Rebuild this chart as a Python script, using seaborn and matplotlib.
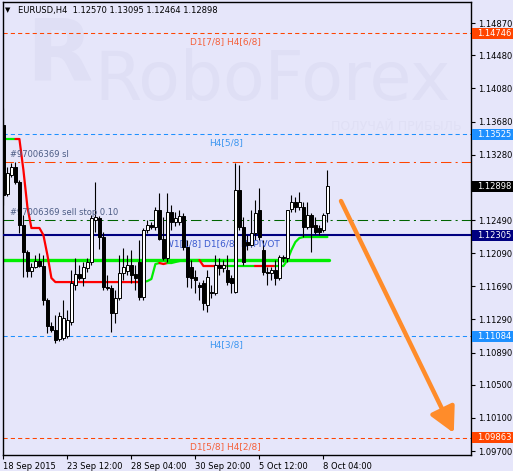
import numpy as np
import pandas as pd
import matplotlib
matplotlib.use("Agg")
import matplotlib.pyplot as plt
import seaborn as sns
from matplotlib.patches import Rectangle, FancyArrowPatch
from matplotlib.transforms import blended_transform_factory

sns.set_style("white")
plt.rcParams['font.family'] = ['DejaVu Sans']

# ---------------- data ----------------
title_text = "EURUSD,H4  1.12570 1.13095 1.12464 1.12898"

opens = [1.13638, 1.12804, 1.13034, 1.13131, 1.12949, 1.12430, 1.12104, 1.11874, 1.11922, 1.11995,
         1.11935, 1.11524, 1.11210, 1.11162, 1.11053, 1.11065, 1.11089, 1.11258, 1.11705, 1.11838,
         1.11790, 1.11910, 1.11983, 1.12490, 1.12515, 1.12285, 1.11681, 1.11669, 1.11367, 1.11548,
         1.11850, 1.11874, 1.11947, 1.11838, 1.11983, 1.11560, 1.12370, 1.12430, 1.12406, 1.12611,
         1.12261, 1.12031, 1.12587, 1.12466, 1.12466, 1.12539, 1.12164, 1.11922, 1.11802, 1.11705,
         1.11729, 1.11464, 1.11620, 1.11608, 1.11947, 1.11910, 1.11886, 1.11790, 1.11620, 1.12853,
         1.12406, 1.12225, 1.12188, 1.12333, 1.12611, 1.12128, 1.11862, 1.11850, 1.11886, 1.11790,
         1.12043, 1.12031, 1.12624, 1.12708, 1.12648, 1.12648, 1.12406, 1.12551, 1.12430, 1.12394,
         1.12370, 1.12570]
highs = [1.13843, 1.13131, 1.13179, 1.13191, 1.12974, 1.12551, 1.12128, 1.11971, 1.12068, 1.12092,
         1.12068, 1.11548, 1.11258, 1.11343, 1.11379, 1.11524, 1.11403, 1.11886, 1.12031, 1.11947,
         1.11983, 1.12031, 1.12551, 1.12949, 1.12539, 1.12345, 1.11826, 1.11705, 1.11645, 1.12068,
         1.12152, 1.12068, 1.12128, 1.11947, 1.12249, 1.12394, 1.12490, 1.12466, 1.12648, 1.12816,
         1.12527, 1.12816, 1.12672, 1.12587, 1.12611, 1.12575, 1.12249, 1.12007, 1.11886, 1.11741,
         1.11766, 1.11886, 1.11705, 1.12068, 1.12031, 1.12007, 1.12068, 1.11826, 1.13179, 1.13155,
         1.12527, 1.12309, 1.12611, 1.12732, 1.12877, 1.12249, 1.11922, 1.11922, 1.12007, 1.12068,
         1.12068, 1.12611, 1.12792, 1.12768, 1.12828, 1.12708, 1.12708, 1.12575, 1.12527, 1.12430,
         1.12575, 1.13095]
lows = [1.12672, 1.12780, 1.13010, 1.12925, 1.12333, 1.11802, 1.11802, 1.11802, 1.11910, 1.11922,
        1.11464, 1.11125, 1.11137, 1.11004, 1.11028, 1.11041, 1.11065, 1.11222, 1.11645, 1.11766,
        1.11693, 1.11862, 1.11947, 1.12345, 1.12140, 1.11645, 1.11645, 1.11137, 1.11246, 1.11524,
        1.11766, 1.11826, 1.11729, 1.11645, 1.11524, 1.11524, 1.12333, 1.12382, 1.12370, 1.12249,
        1.12007, 1.11983, 1.12370, 1.12418, 1.12430, 1.12128, 1.11681, 1.11669, 1.11608, 1.11524,
        1.11403, 1.11379, 1.11548, 1.11584, 1.11826, 1.11862, 1.11705, 1.11608, 1.11608, 1.12370,
        1.11947, 1.12128, 1.12164, 1.12249, 1.12249, 1.11826, 1.11705, 1.11766, 1.11705, 1.11766,
        1.11983, 1.11983, 1.12587, 1.12587, 1.12611, 1.12285, 1.12382, 1.12104, 1.12321, 1.12309,
        1.12345, 1.12464]
closes = [1.12792, 1.13058, 1.13131, 1.12949, 1.12430, 1.12104, 1.11874, 1.11922, 1.11995, 1.11935,
          1.11524, 1.11210, 1.11162, 1.11041, 1.11331, 1.11307, 1.11282, 1.11729, 1.11838, 1.11790,
          1.11922, 1.11983, 1.12515, 1.12527, 1.12285, 1.11681, 1.11669, 1.11367, 1.11548, 1.11850,
          1.11922, 1.11947, 1.11826, 1.11790, 1.11560, 1.12370, 1.12430, 1.12406, 1.12611, 1.12261,
          1.12031, 1.12587, 1.12466, 1.12515, 1.12539, 1.12164, 1.11802, 1.11790, 1.11766, 1.11681,
          1.11488, 1.11802, 1.11608, 1.11947, 1.11910, 1.11947, 1.11741, 1.11729, 1.12853, 1.12406,
          1.11983, 1.12188, 1.12333, 1.12575, 1.12285, 1.11862, 1.11850, 1.11886, 1.11790, 1.12043,
          1.12031, 1.12611, 1.12708, 1.12648, 1.12708, 1.12406, 1.12551, 1.12406, 1.12345, 1.12345,
          1.12551, 1.12898]

# trailing stop line (value per bar) and its colour state (1 = green, -1 = red)
trail = [1.13469, 1.13469, 1.13469, 1.13469, 1.13469, 1.13095, 1.12648, 1.12394, 1.12394, 1.12394,
         1.12309, 1.12068, 1.11790, 1.11741] + [1.11741] * 21 + \
        [1.11741, 1.11753, 1.11778, 1.11959, 1.11971, 1.11959, 1.11971, 1.11971, 1.11983, 1.11995,
         1.12007, 1.12007, 1.12007, 1.12007, 1.12007] + [1.11935] * 21 + \
        [1.12007, 1.12128, 1.12225, 1.12273] + [1.12285] * 7
trail_dir = [1] * 4 + [-1] * 31 + [1] * 5 + [-1] * 2 + [1] * 8 + [-1] * 7 + [1] * 7 + [-1] * 5 + [1] * 13

support_level = 1.12007          # thick green line
pivot_level = 1.12305            # navy pivot line
pivot_label = "W1[1/8] D1[6/8] H4PIVOT"
sl_level = 1.13191
sl_label = "#97006369 sl"
entry_level = 1.12490
entry_label = "#97006369 sell stop 0.10"
last_price = 1.12898

murrey_levels = [1.14746, 1.13525, 1.11084, 1.09863]
murrey_labels = ["D1[7/8] H4[6/8]", "H4[5/8]", "H4[3/8]", "D1[5/8] H4[2/8]"]
murrey_colors = ["#FF4500", "#1E90FF", "#1E90FF", "#FF4500"]
murrey_text_colors = ["#F5603A", "#3C96F0", "#3C96F0", "#F5603A"]
murrey_text_x = [46.6, 51.4, 51.4, 46.6]

arrow_start = (84.4, 1.12720)
arrow_end = (112.6, 1.09917)

time_ticks = [0, 16, 32, 48, 64, 80]
time_labels = ["18 Sep 2015", "23 Sep 12:00", "28 Sep 04:00", "30 Sep 20:00", "5 Oct 12:00", "8 Oct 04:00"]
price_ticks = [1.14870, 1.14480, 1.14080, 1.13680, 1.13280, 1.12490, 1.12090,
               1.11690, 1.11290, 1.10890, 1.10500, 1.10100, 1.09700]

# ---------------- figure ----------------
W, H = 513, 471
BG = "#E6E6FA"
fig = plt.figure(figsize=(W / 100, H / 100), dpi=100)
fig.patch.set_facecolor(BG)
ax = fig.add_axes([3 / W, 16 / H, 468 / W, 453 / H])
ax.set_facecolor(BG)
ax.set_xlim(-0.1, 116.9)
ax.set_ylim(1.09652, 1.15124)

# watermark
WM = "#DFDFF5"
ax.text(0.195, 0.898, "RoboForex", transform=ax.transAxes, fontsize=49, color=WM,
        ha="left", va="top", zorder=0)
ax.text(0.05, 0.97, "R", transform=ax.transAxes, fontsize=62, fontweight="bold", color=WM,
        ha="left", va="top", zorder=0)
ax.text(0.70, 0.726, "ПОЛУЧАЙ ПРИБЫЛЬ", transform=ax.transAxes, fontsize=9, color="#E0E0F5",
        ha="left", va="center", zorder=0)

# murrey level lines
for lvl, lab, c, tc, tx in zip(murrey_levels, murrey_labels, murrey_colors, murrey_text_colors, murrey_text_x):
    ax.axhline(lvl, color=c, lw=0.75, dashes=(4, 3), zorder=1)
    ax.annotate(lab, (tx, lvl), xytext=(0, -3), textcoords="offset points",
                color=tc, fontsize=6.5, ha="left", va="top", zorder=5)

# order lines
ax.axhline(sl_level, color="#FF4500", lw=0.75, dashes=(10, 4, 2, 4), zorder=1)
ax.axhline(entry_level, color="#006400", lw=0.75, dashes=(10, 4, 2, 4), zorder=1)
ax.annotate(sl_label, (1.6, sl_level), xytext=(0, 2), textcoords="offset points",
            color="#4B5B84", fontsize=6, ha="left", va="bottom", zorder=6)
ax.annotate(entry_label, (1.6, entry_level), xytext=(0, 2), textcoords="offset points",
            color="#4B5B84", fontsize=6, ha="left", va="bottom", zorder=6)

# pivot line
ax.axhline(pivot_level, color="#000080", lw=1.5, zorder=3)
ax.annotate(pivot_label, (40.4, pivot_level), xytext=(0, -3), textcoords="offset points",
            color="#3A5AD0", fontsize=6.5, ha="left", va="top", zorder=6)

# thick green support line
n = len(closes)
idx = np.arange(n)
sup_df = pd.DataFrame({"x": [-0.1, n - 1 + 0.4], "y": [support_level, support_level]})
sns.lineplot(data=sup_df, x="x", y="y", ax=ax, color="#00EE00", lw=2.4, zorder=2)

# trailing line, coloured runs
runs = []
start = 0
for i in range(1, n + 1):
    if i == n or trail_dir[i] != trail_dir[start]:
        runs.append((max(start - 1, 0), i - 1, trail_dir[start]))
        start = i
for a, b, d in runs:
    seg = pd.DataFrame({"x": idx[a:b + 1], "y": trail[a:b + 1]})
    if len(seg) == 1:
        continue
    sns.lineplot(data=seg, x="x", y="y", ax=ax, color="#00EE00" if d > 0 else "#FF0000",
                 lw=1.6, zorder=4)

# candles
o = np.array(opens); h = np.array(highs); l = np.array(lows); c = np.array(closes)
ax.vlines(idx, l, h, color="black", lw=0.8, zorder=5)
body_bottom = np.minimum(o, c)
body_h = np.maximum(np.abs(c - o), 0.00004)
cols = ["white" if cc >= oo else "black" for oo, cc in zip(o, c)]
ax.bar(idx, body_h, bottom=body_bottom, width=0.62, color=cols, edgecolor="black",
       linewidth=0.7, zorder=6)

# arrow
arr = FancyArrowPatch(arrow_start, arrow_end, arrowstyle="-|>,head_length=0.95,head_width=0.5",
                      mutation_scale=16, color="#FF8C2A", lw=3.2, zorder=7, shrinkA=0, shrinkB=0)
ax.add_patch(arr)

# axes styling
for s in ax.spines.values():
    s.set_color("black")
    s.set_linewidth(1.0)
ax.yaxis.tick_right()
ax.set_yticks(price_ticks)
ax.set_yticklabels([f"{p:.5f}" for p in price_ticks])
ax.tick_params(axis="y", which="both", right=True, left=False, length=3, width=0.8,
               pad=2, labelsize=6, colors="black")
ax.set_xticks(time_ticks)
ax.set_xticklabels(time_labels)
ax.tick_params(axis="x", bottom=True, length=3, width=0.8, pad=2, labelsize=6, colors="black")
for t in ax.get_xticklabels():
    t.set_ha("left")
ax.set_xlabel("")
ax.set_ylabel("")

# price boxes on the right axis
trans = blended_transform_factory(fig.transFigure, ax.transData)
box_h = 10.5 / 8279
boxes = [(murrey_levels[0], "#FF4500"), (murrey_levels[1], "#1E90FF"), (last_price, "black"),
         (pivot_level, "#000080"), (murrey_levels[2], "#1E90FF"), (murrey_levels[3], "#FF4500")]
for val, bc in boxes:
    r = Rectangle((472 / W, val - box_h / 2), 1 - 472 / W, box_h, transform=trans,
                  facecolor=bc, edgecolor="none", clip_on=False, zorder=10)
    fig.add_artist(r)
    fig.text(477 / W, val, f"{val:.5f}", transform=trans, color="white", fontsize=6,
             ha="left", va="center", zorder=11)

# title
fig.text(5 / W, 1 - 10.5 / H, "▼", fontsize=5, color="black", ha="left", va="center")
fig.text(18 / W, 1 - 10.5 / H, title_text, fontsize=6, color="black", ha="left", va="center")

fig.savefig("out.png", dpi=100, facecolor=BG)
